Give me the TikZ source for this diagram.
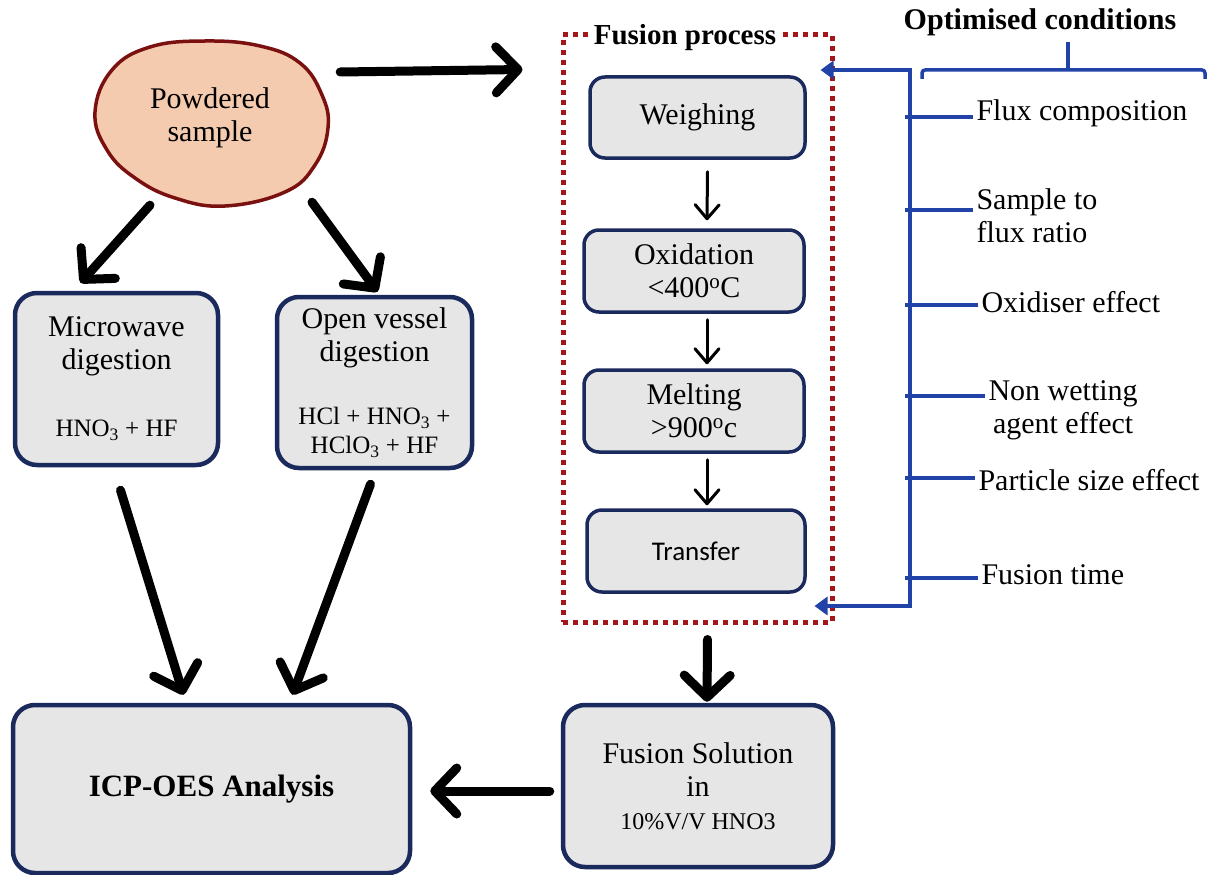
\documentclass[tikz,border=0pt]{standalone}
\usepackage{fontspec}
\setmainfont{Liberation Serif}
\newfontfamily\sansfont{Carlito}
\usetikzlibrary{arrows.meta,shapes.geometric,calc}
\definecolor{navy}{HTML}{1B2A5C}
\definecolor{boxgray}{HTML}{E6E6E6}
\definecolor{ppeach}{HTML}{F5CBB0}
\definecolor{pred}{HTML}{7A1010}
\definecolor{fred}{HTML}{A3161A}
\definecolor{oblue}{HTML}{2142A6}
\begin{document}
\begin{tikzpicture}[x=1pt, y=-1pt, line join=round, line cap=round,
    every node/.style={font=\fontsize{30}{33}\selectfont},
    box/.style={draw=navy, fill=boxgray, line width=4.5pt, rounded corners=22pt,
        align=center, inner sep=0pt},
    stepbox/.style={box, line width=3.5pt, rounded corners=15pt},
    fat/.style={line width=9pt, -{Straight Barb[length=22pt,width=46pt,round]}},
    slim/.style={line width=3pt, -{Straight Barb[length=14pt,width=24pt,round]}},
    bline/.style={draw=oblue, line width=3.5pt, line cap=rect},
    barrow/.style={bline, -{Triangle[length=13pt,width=18pt]}},
    cond/.style={anchor=west, align=left}]
\useasboundingbox (0,0) rectangle (1208,875);

% sample
\filldraw[draw=pred, fill=ppeach, line width=3.5pt] plot[smooth cycle, tension=0.7] coordinates
    {(95,112) (112,70) (150,47) (205,41) (260,46) (300,63) (322,95) (328,128)
     (315,165) (285,192) (225,206) (175,198) (135,178) (107,150)};
\node (ps) [ellipse, minimum width=236pt, minimum height=164pt, align=center] at (210,118) {Powdered\\sample};

% digestion routes
\node (mw) [box, minimum width=203pt, minimum height=172pt] at (116.5,379)
    {Microwave\\digestion\\[34pt]\fontsize{25}{28}\selectfont HNO\textsubscript{3} + HF};
\node (ov) [box, minimum width=195pt, minimum height=171pt] at (374.5,382.5)
    {Open vessel\\digestion\\[30pt]\fontsize{25}{28}\selectfont HCl + HNO\textsubscript{3} +\\[-4pt]\fontsize{25}{28}\selectfont HClO\textsubscript{3} + HF};
\node (icp) [box, minimum width=397pt, minimum height=168pt, font=\bfseries\fontsize{31}{33}\selectfont] at (211.5,789) {ICP-OES Analysis};
\node (fs) [box, minimum width=270pt, minimum height=162pt] at (698,786)
    {Fusion Solution\\in\\\fontsize{24}{30}\selectfont 10\%V/V HNO3};

% fusion process
\node (fp) [draw=fred, line width=5pt, dash pattern=on 5pt off 5pt, line cap=butt,
    minimum width=269pt, minimum height=587pt, inner sep=0pt] at (697.5,328.5) {};
\node (fpt) [fill=white, font=\bfseries\fontsize{29}{30}\selectfont, inner ysep=2pt, inner xsep=5pt] at (685,38) {Fusion process};
\node (wg) [stepbox, minimum width=215pt, minimum height=81pt] at (697.5,117.5) {Weighing};
\node (ox) [stepbox, minimum width=220pt, minimum height=82pt] at (694,271) {Oxidation\\<400\textsuperscript{o}C};
\node (ml) [stepbox, minimum width=220pt, minimum height=82pt] at (694,411) {Melting\\>900\textsuperscript{o}c};
\node (tr) [stepbox, minimum width=218pt, minimum height=82pt, font=\sansfont\fontsize{27}{30}\selectfont] at (696,551) {Transfer};

\draw[slim] ($(wg.south)+(10,12)$) -- ($(ox.north)+(13,-8)$);
\draw[slim] ($(ox.south)+(13,6)$) -- ($(ml.north)+(13,-4)$);
\draw[slim] ($(ml.south)+(13,6)$) -- ($(tr.north)+(11,-3)$);

% main arrows
\draw[fat] ($(ps.east)+(12,-46)$) -- ($(fp.north west)+(-38,37)$);
\draw[fat] ($(ps.south)+(-60,5)$) -- ($(mw.north)+(-36,-8)$);
\draw[fat] ($(ps.south)+(102,2)$) -- ($(ov.north)+(3,-3)$);
\draw[fat] ($(mw.south)+(4,23)$) -- ($(icp.north)+(-28,-8)$);
\draw[fat] ($(ov.south)+(-4,14)$) -- ($(icp.north)+(81,-8)$);
\draw[fat] ($(fp.south)+(10,15)$) -- ($(fs.north)+(9,-1)$);
\draw[fat] ($(fs.west)+(-11,5)$) -- ($(icp.east)+(18,2)$);

% optimised conditions
\node (oc) [font=\bfseries\fontsize{30}{30}\selectfont] at (1040,22) {Optimised conditions};
\draw[bline, line cap=butt, rounded corners=3pt] (922,79) -- (922,70) -- (1205,70) -- (1205,79);
\draw[bline, line cap=butt] (1068,42) -- (1068,70);

\node (c1) [cond] at (973,113) {Flux composition};
\node (c2) [cond] at (973,216) {Sample to\\flux ratio};
\node (c3) [cond] at (978,302) {Oxidiser effect};
\node (c4) [cond, align=center] at (985,410) {Non wetting\\agent effect};
\node (c5) [cond] at (975,480) {Particle size effect};
\node (c6) [cond] at (978,575) {Fusion time};

\coordinate (tt) at (910,70);
\coordinate (tb) at (910,606);
\draw[bline] (tt) -- (tb);
\draw[barrow] (tt) -- ($(fp.east |- tt)+(-14,0)$);
\draw[barrow] (tb) -- ($(fp.east |- tb)+(-20,0)$);
\foreach \c/\yy in {c1/117,c2/210,c3/305,c4/396,c5/478,c6/578}
    \draw[bline, line cap=butt] (905,\yy) -- (\c.west |- 0,\yy);
\end{tikzpicture}
\end{document}
